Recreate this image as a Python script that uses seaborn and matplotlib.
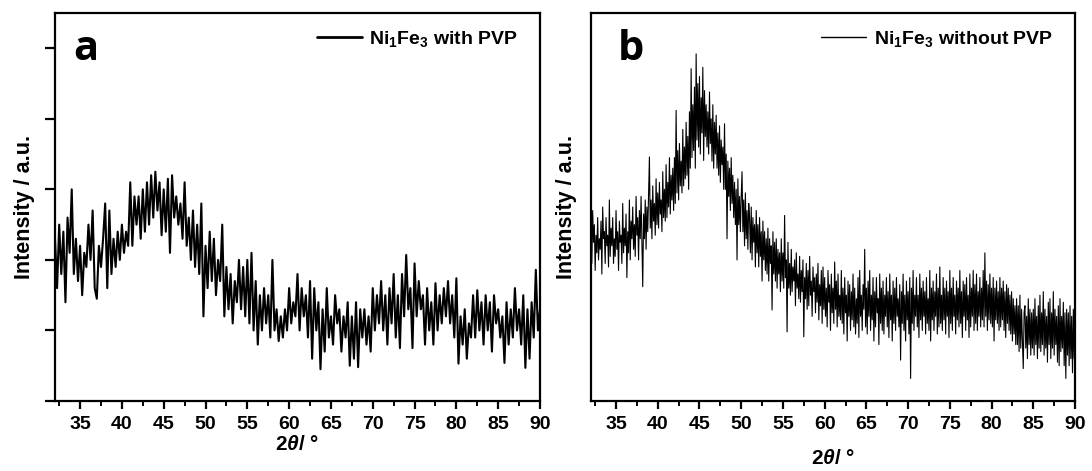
import numpy as np
import pandas as pd
import matplotlib
matplotlib.use("Agg")
import matplotlib.pyplot as plt
import seaborn as sns

# ---------------- data ----------------
# panel a: 2theta from 32 to 90 in 0.25 deg steps
two_theta_a = np.round(np.arange(32.0, 90.0001, 0.25), 2)
intensity_a = [
    2.3, 1.6, 2.5, 1.8,   # 32
    2.4, 1.4, 2.6, 2.1,   # 33
    3.0, 1.8, 2.3, 1.7,   # 34
    2.2, 1.5, 2.1, 1.9,   # 35
    2.5, 2.0, 2.7, 1.6,   # 36
    1.45, 2.2, 1.9, 2.3,  # 37
    2.8, 1.6, 2.7, 1.8,   # 38
    2.3, 1.9, 2.4, 2.0,   # 39
    2.5, 2.1, 2.4, 2.2,   # 40
    3.1, 2.2, 2.9, 2.5,   # 41
    2.9, 2.3, 3.0, 2.4,   # 42
    3.1, 2.5, 3.2, 2.6,   # 43
    3.25, 2.7, 3.1, 2.35, # 44
    3.0, 2.4, 3.15, 2.1,  # 45
    3.2, 2.6, 2.9, 2.5,   # 46
    2.8, 2.3, 3.1, 2.2,   # 47
    2.6, 2.0, 2.7, 1.9,   # 48
    2.5, 1.8, 2.8, 1.2,   # 49
    2.2, 1.6, 2.4, 1.7,   # 50
    2.3, 1.5, 2.0, 1.7,   # 51
    2.5, 1.2, 1.9, 1.3,   # 52
    1.8, 1.1, 1.7, 1.4,   # 53
    2.0, 1.3, 1.9, 1.2,   # 54
    2.0, 1.1, 2.1, 1.0,   # 55
    1.7, 0.8, 1.5, 1.0,   # 56
    1.6, 1.1, 1.5, 0.9,   # 57
    2.0, 1.0, 1.3, 0.85,  # 58
    1.2, 0.9, 1.3, 1.0,   # 59
    1.6, 1.1, 1.4, 1.2,   # 60
    1.8, 1.0, 1.6, 1.2,   # 61
    1.5, 0.9, 1.7, 0.6,   # 62
    1.6, 1.0, 1.4, 0.45,  # 63
    1.3, 0.7, 1.6, 0.9,   # 64
    1.2, 0.8, 1.5, 1.1,   # 65
    1.3, 0.7, 1.2, 0.9,   # 66
    1.4, 0.5, 1.2, 0.6,   # 67
    1.4, 0.48, 1.3, 0.9,  # 68
    1.3, 0.8, 1.2, 0.7,   # 69
    1.6, 1.0, 1.5, 1.1,   # 70
    1.7, 1.0, 1.5, 0.8,   # 71
    1.6, 1.1, 1.8, 0.9,   # 72
    1.5, 0.75, 1.8, 1.2,  # 73
    2.07, 1.3, 1.6, 0.75, # 74
    1.95, 1.2, 1.7, 1.3,  # 75
    1.5, 0.8, 1.6, 1.0,   # 76
    1.4, 0.8, 1.67, 1.0,  # 77
    1.5, 1.1, 1.6, 1.2,   # 78
    1.7, 1.1, 1.5, 0.9,   # 79
    1.74, 0.53, 1.2, 0.8, # 80
    1.3, 0.6, 1.1, 0.9,   # 81
    1.5, 0.9, 1.57, 1.0,  # 82
    1.4, 0.8, 1.5, 1.0,   # 83
    1.4, 0.7, 1.5, 1.1,   # 84
    1.3, 0.9, 1.2, 0.54,  # 85
    1.4, 0.8, 1.3, 0.9,   # 86
    1.6, 1.0, 1.3, 0.8,   # 87
    1.5, 0.47, 1.3, 0.6,  # 88
    1.4, 0.9, 1.86, 1.0,  # 89
    1.3,                  # 90
]

# panel b: 2theta from 32 to 90 in 0.1 deg steps
two_theta_b = np.round(np.arange(32.0, 90.0001, 0.1), 2)
intensity_b = [
    2.45, 1.95, 2.7, 2.25, 2.5, 1.85, 2.35, 2.1, 2.6, 2.0,     # 32
    2.3, 2.15, 2.55, 1.8, 2.75, 2.3, 2.4, 1.95, 2.6, 2.2,      # 33
    2.35, 1.9, 2.85, 2.05, 2.45, 2.2, 2.6, 1.95, 2.3, 2.05,    # 34
    2.7, 2.15, 2.4, 1.85, 2.55, 2.25, 2.35, 1.95, 2.8, 2.1,    # 35
    2.45, 2.2, 2.65, 1.75, 2.4, 2.1, 2.85, 2.0, 2.55, 2.3,     # 36
    2.75, 2.15, 2.5, 2.05, 2.9, 2.35, 2.6, 2.0, 2.7, 2.3,      # 37
    2.9, 2.25, 1.62, 2.65, 2.3, 2.85, 2.15, 2.75, 2.4, 2.95,   # 38
    3.46, 2.45, 2.85, 2.3, 3.05, 2.55, 2.8, 2.35, 3.15, 2.5,   # 39
    2.95, 2.45, 3.1, 2.65, 2.85, 2.4, 3.25, 2.6, 3.0, 2.55,    # 40
    3.35, 2.6, 3.1, 2.75, 3.45, 2.65, 3.2, 2.85, 3.3, 2.7,     # 41
    3.45, 2.8, 4.12, 2.95, 3.55, 2.85, 3.65, 3.05, 3.4, 2.95,  # 42
    3.85, 3.05, 3.6, 3.15, 3.95, 3.2, 3.75, 3.0, 4.1, 3.3,     # 43
    4.71, 3.45, 4.2, 3.55, 4.45, 3.3, 4.92, 3.7, 4.5, 3.6,     # 44
    4.6, 3.5, 4.3, 3.8, 4.73, 3.41, 4.4, 3.75, 4.2, 3.6,       # 45
    4.1, 3.5, 4.38, 3.65, 4.0, 3.4, 4.2, 3.3, 3.95, 3.5,       # 46
    4.05, 3.3, 3.8, 3.2, 3.9, 3.1, 3.7, 3.35, 3.6, 3.0,        # 47
    3.93, 3.0, 3.5, 2.3, 3.4, 2.9, 3.3, 2.7, 3.45, 2.8,        # 48
    3.2, 2.6, 3.1, 2.5, 3.0, 2.0, 3.15, 2.5, 2.9, 2.4,         # 49
    2.9, 3.25, 2.4, 2.85, 2.2, 2.95, 2.3, 2.7, 2.15, 2.8,      # 50
    2.6, 2.1, 2.75, 2.0, 2.6, 2.25, 2.5, 1.9, 2.7, 2.1,        # 51
    2.5, 1.9, 2.6, 2.05, 2.4, 1.7, 2.55, 2.0, 2.4, 1.85,       # 52
    2.3, 1.8, 2.45, 1.7, 2.3, 1.95, 2.2, 1.29, 2.4, 1.8,       # 53
    2.25, 1.7, 2.3, 1.6, 2.15, 1.8, 2.1, 1.55, 2.3, 1.7,       # 54
    2.1, 1.6, 2.63, 1.75, 2.0, 0.98, 2.25, 1.6, 1.95, 1.5,     # 55
    2.15, 1.55, 1.9, 1.7, 2.0, 1.35, 2.1, 1.6, 1.8, 1.45,      # 56
    2.05, 1.4, 1.85, 1.55, 2.0, 0.91, 1.75, 1.45, 1.95, 1.3,   # 57
    1.85, 1.35, 2.05, 1.5, 1.7, 1.2, 1.9, 1.55, 1.75, 1.25,    # 58
    1.8, 1.4, 1.95, 1.15, 1.65, 1.35, 1.85, 1.1, 1.9, 1.3,     # 59
    1.75, 1.2, 1.6, 1.05, 1.85, 1.4, 1.65, 1.0, 1.8, 1.25,     # 60
    1.6, 1.1, 1.97, 1.3, 1.7, 1.05, 1.8, 1.2, 1.5, 1.15,       # 61
    1.85, 1.1, 1.6, 0.95, 1.75, 1.25, 1.5, 0.85, 1.7, 1.2,     # 62
    1.65, 1.0, 1.55, 1.15, 1.8, 1.05, 1.6, 0.95, 1.45, 1.1,    # 63
    1.75, 0.9, 1.85, 1.2, 1.5, 1.0, 1.65, 1.3, 2.15, 1.05,     # 64
    1.6, 0.95, 1.7, 1.2, 1.85, 1.0, 1.5, 1.15, 1.75, 0.85,     # 65
    1.55, 1.05, 1.75, 1.25, 1.45, 0.8, 1.8, 1.1, 1.6, 1.0,     # 66
    1.7, 0.95, 1.5, 1.2, 1.75, 1.05, 1.55, 0.9, 1.8, 1.15,     # 67
    1.5, 0.85, 1.7, 1.1, 1.6, 1.0, 1.75, 1.2, 1.45, 1.05,      # 68
    1.65, 0.58, 1.55, 1.1, 1.8, 1.0, 1.5, 0.85, 1.7, 1.15,     # 69
    1.55, 0.95, 1.75, 0.32, 1.6, 1.1, 1.85, 1.0, 1.5, 1.2,     # 70
    1.75, 1.05, 1.5, 0.9, 1.8, 1.15, 1.6, 1.0, 1.7, 1.2,       # 71
    1.55, 0.95, 1.75, 1.1, 1.45, 1.0, 1.85, 0.85, 1.6, 1.15,   # 72
    1.7, 1.0, 1.55, 1.2, 1.8, 0.95, 1.6, 1.05, 1.9, 1.1,       # 73
    1.5, 1.0, 1.75, 1.15, 1.6, 0.95, 1.7, 1.2, 1.55, 0.9,      # 74
    1.85, 1.1, 1.6, 1.0, 1.75, 1.2, 1.5, 0.95, 1.7, 1.15,      # 75
    1.6, 1.05, 1.85, 1.1, 1.55, 0.9, 1.7, 1.2, 1.65, 1.0,      # 76
    1.75, 1.15, 1.5, 0.9, 1.8, 1.05, 1.6, 1.2, 1.85, 1.0,      # 77
    1.65, 1.1, 1.8, 1.0, 1.55, 1.2, 1.75, 1.05, 1.6, 1.15,     # 78
    1.85, 1.05, 2.1, 1.2, 1.7, 1.0, 1.65, 1.15, 1.8, 1.1,      # 79
    1.6, 1.05, 1.75, 0.85, 1.6, 1.15, 1.7, 1.1, 1.55, 1.0,     # 80
    1.75, 1.05, 1.6, 1.15, 1.7, 1.0, 1.55, 0.9, 1.65, 1.1,     # 81
    1.6, 1.0, 1.5, 0.95, 1.55, 0.85, 1.45, 0.95, 1.35, 0.8,    # 82
    1.45, 0.8, 1.35, 0.7, 1.5, 0.75, 1.3, 0.85, 0.46, 1.25,    # 83
    1.35, 0.75, 1.2, 0.6, 1.45, 0.8, 1.3, 0.65, 1.25, 0.75,    # 84
    1.3, 0.65, 1.45, 0.8, 1.2, 0.6, 1.35, 0.75, 1.5, 0.7,      # 85
    1.25, 0.8, 1.55, 0.65, 1.3, 0.75, 1.2, 0.55, 1.4, 0.8,     # 86
    1.45, 0.6, 1.25, 0.75, 1.55, 0.65, 1.3, 0.8, 1.2, 0.55,    # 87
    1.35, 0.5, 1.45, 0.7, 1.2, 0.75, 1.4, 0.5, 1.25, 0.32,     # 88
    1.3, 0.65, 1.25, 0.5, 1.35, 0.6, 1.2, 0.4, 1.3, 0.6,       # 89
    1.0,                                                       # 90
]

label_a = r"Ni$_\mathbf{1}$Fe$_\mathbf{3}$ with PVP"
label_b = r"Ni$_\mathbf{1}$Fe$_\mathbf{3}$ without PVP"
panel_letters = ["a", "b"]
x_ticks = [35, 40, 45, 50, 55, 60, 65, 70, 75, 80, 85, 90]
y_ticks_a = [0, 1, 2, 3, 4, 5]

# ---------------- style ----------------
sns.set_theme(style="ticks")
plt.rcParams["font.family"] = ["Liberation Sans", "DejaVu Sans"]
plt.rcParams["font.weight"] = "bold"
plt.rcParams["mathtext.fontset"] = "custom"
plt.rcParams["mathtext.rm"] = "Liberation Sans:bold"
plt.rcParams["mathtext.bf"] = "Liberation Sans:bold"
plt.rcParams["mathtext.it"] = "Liberation Sans:bold:italic"
plt.rcParams["text.color"] = "black"
plt.rcParams["axes.labelcolor"] = "black"
plt.rcParams["xtick.color"] = "black"
plt.rcParams["ytick.color"] = "black"
plt.rcParams["axes.edgecolor"] = "black"

df_a = pd.DataFrame({"two_theta": two_theta_a, "intensity": intensity_a})
df_b = pd.DataFrame({"two_theta": two_theta_b, "intensity": intensity_b})

fig = plt.figure(figsize=(10.92, 4.71), dpi=100)
ax_a = fig.add_axes([55 / 1092, 70 / 471, 485 / 1092, 388 / 471])
ax_b = fig.add_axes([591 / 1092, 70 / 471, 484 / 1092, 388 / 471])

sns.lineplot(data=df_a, x="two_theta", y="intensity", ax=ax_a, color="black",
             linewidth=1.5, label=label_a, sort=False, estimator=None)
sns.lineplot(data=df_b, x="two_theta", y="intensity", ax=ax_b, color="black",
             linewidth=0.8, label=label_b, sort=False, estimator=None)

for ax, letter, lw, lx, ypad in [(ax_a, panel_letters[0], 2.0, 0.037, 4),
                                 (ax_b, panel_letters[1], 1.0, 0.056, 10)]:
    ax.set_xlim(32, 90)
    ax.set_ylim(0, 5.5)
    ax.set_xticks(x_ticks)
    ax.set_xticks(np.arange(32.5, 90.01, 2.5), minor=True)
    for s in ax.spines.values():
        s.set_visible(True)
        s.set_linewidth(1.6)
        s.set_color("black")
    ax.tick_params(axis="x", which="major", direction="out", length=6, width=1.6,
                   labelsize=14, pad=5, colors="black")
    ax.tick_params(axis="x", which="minor", direction="out", length=3.5, width=1.4,
                   colors="black")
    ax.set_ylabel("Intensity / a.u.", fontsize=15.5, fontweight="bold", labelpad=ypad,
                  color="black")
    for t in ax.get_xticklabels():
        t.set_fontweight("bold")
    ax.text(lx, 0.905, letter, transform=ax.transAxes, fontsize=30, color="black",
            fontweight="bold", family=["Open Sans", "DejaVu Sans"], va="center", ha="left")
    leg = ax.legend(loc="center right", frameon=False, fontsize=14,
                    handlelength=2.3, handletextpad=0.4, borderaxespad=0.0,
                    bbox_to_anchor=(0.971, 0.933))
    for line in leg.get_lines():
        line.set_linewidth(lw)
    for t in leg.get_texts():
        t.set_fontweight("bold")
        t.set_color("black")

ax_a.set_yticks(y_ticks_a)
ax_a.set_yticklabels([])
ax_a.tick_params(axis="y", direction="out", length=7, width=1.6, colors="black")
ax_b.set_yticks([])

ax_a.set_xlabel(r"2$\mathit{\theta}$/ °", fontsize=15, fontweight="bold", labelpad=1,
                color="black")
ax_b.set_xlabel(r"2$\mathit{\theta}$/ °", fontsize=15, fontweight="bold", labelpad=11,
                color="black")

fig.savefig("out.png", dpi=100)
